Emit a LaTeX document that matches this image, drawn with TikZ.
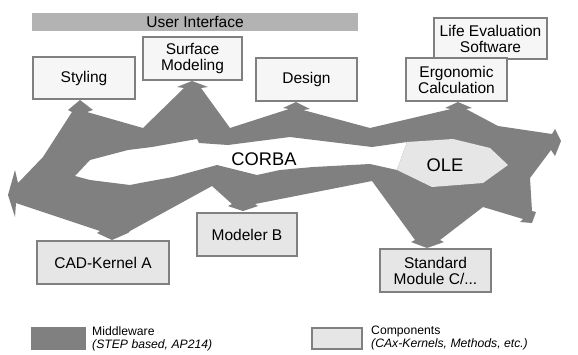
\documentclass[tikz,border=0pt]{standalone}
\usepackage{fontspec}
\setmainfont{Liberation Sans}
\definecolor{band}{HTML}{808080}
\definecolor{uibar}{HTML}{B3B3B3}
\definecolor{boxline}{HTML}{808080}
\definecolor{topfill}{HTML}{F6F6F6}
\definecolor{lowfill}{HTML}{E6E6E6}
\tikzset{
  compbox/.style={draw=boxline, line width=2pt, inner sep=0pt, align=center,
    font=\fontsize{15.5}{16}\selectfont},
  topbox/.style={compbox, fill=topfill},
  lowbox/.style={compbox, fill=lowfill},
  legtext/.style={anchor=north west, inner sep=0pt, align=left,
    font=\fontsize{12.2}{13}\selectfont},
}
\begin{document}
\begin{tikzpicture}[x=1pt,y=-1pt]
\useasboundingbox (0,0) rectangle (578,354);
% user interface bar
\node[fill=uibar, minimum width=326pt, minimum height=18pt, inner sep=0pt,
  font=\fontsize{15.5}{16}\selectfont] (ui) at (195,22) {User Interface};
% middleware band
\fill[band, even odd rule]
 (80,100) -- (93,110) -- (87,112) -- (143,128) -- (184,88) -- (177,87) -- (192,81)
 -- (208,87) -- (201,88) -- (230,128) -- (289,109) -- (283,108) -- (296,102)
 -- (310,109) -- (303,110) -- (370,128) -- (451,109) -- (445,108) -- (458,102)
 -- (472,108) -- (466,109) -- (498,126) -- (552,134) -- (555,129) -- (561,141)
 -- (555,156) -- (551,150) -- (530,178) -- (532,211) -- (536,212) -- (532,223)
 -- (520,222) -- (523,219) -- (483,207) -- (440,240) -- (444,242) -- (427,248)
 -- (411,242) -- (415,240) -- (372,181) -- (255,204) -- (258,206) -- (243,211)
 -- (228,206) -- (232,204) -- (212,186) -- (130,231) -- (128,233) -- (112,240)
 -- (97,233) -- (100,231) -- (16,203) -- (15,217) -- (8,195) -- (15,170)
 -- (18,183) -- (43,157) -- (72,112) -- (68,110) -- cycle
 (75,176) -- (90,160) -- (128,150) -- (152,147) -- (197,139) -- (199,143)
 -- (228,145) -- (290,137) -- (298,138) -- (372,147) -- (407,142) -- (397,170)
 -- (370,164) -- (313,167) -- (280,170) -- (257,175) -- (217,165) -- (173,177)
 -- (140,183) -- (130,185) -- (90,180) -- cycle;
% OLE region
\fill[lowfill] (407,142) -- (453,139) -- (490,148) -- (508,165) -- (483,183)
 -- (432,187) -- (397,170) -- cycle;
\node[font=\fontsize{18.3}{20}\selectfont, inner sep=0pt] (corba) at (264,159) {CORBA};
\node[font=\fontsize{18.3}{20}\selectfont, inner sep=0pt] (ole) at (445,165) {OLE};
% components
\node[topbox, minimum width=102pt, minimum height=42pt] (styling) at (84,78) {Styling};
\node[topbox, minimum width=99pt, minimum height=43pt] (surface) at (192.5,58.5) {Surface\\Modeling};
\node[topbox, minimum width=101pt, minimum height=43pt] (design) at (306.5,79.5) {Design};
\node[topbox, minimum width=113pt, minimum height=41pt] (life) at (490.5,38.5) {Life Evaluation\\Software};
\node[topbox, minimum width=101pt, minimum height=43pt] (ergo) at (456.5,79.5) {Ergonomic\\Calculation};
\node[lowbox, minimum width=132pt, minimum height=43pt] (cad) at (103,262.5) {CAD-Kernel A};
\node[lowbox, minimum width=100pt, minimum height=43pt] (modeler) at (247,234.5) {Modeler B};
\node[lowbox, minimum width=111pt, minimum height=43pt] (standard) at (435.5,270.5) {Standard\\Module C/...};
% legend
\node[fill=band, minimum width=55pt, minimum height=23pt, inner sep=0pt] (mwswatch) at (58.5,338.5) {};
\node[legtext] (mwtext) at (92,326) {Middleware\\\textit{(STEP based, AP214)}};
\node[lowbox, minimum width=50pt, minimum height=21pt] (compswatch) at (337,338.5) {};
\node[legtext] (comptext) at (371,326) {Components\\\textit{(CAx-Kernels, Methods, etc.)}};
\end{tikzpicture}
\end{document}
